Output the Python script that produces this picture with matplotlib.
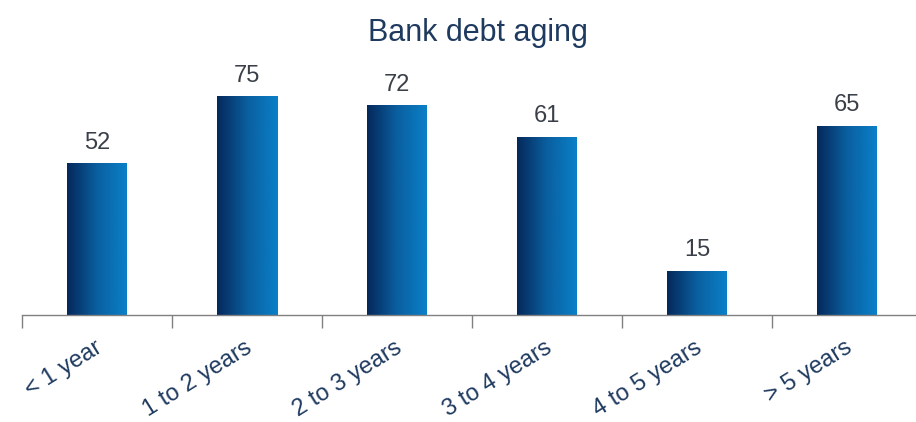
import numpy as np
import matplotlib.pyplot as plt
from matplotlib.colors import LinearSegmentedColormap

categories = ["< 1 year", "1 to 2 years", "2 to 3 years", "3 to 4 years", "4 to 5 years", "> 5 years"]
values = [52, 75, 72, 61, 15, 65]

plt.rcParams['font.family'] = ['Liberation Sans', 'DejaVu Sans']
text_color = "#1f3a5f"
value_color = "#3a3f48"

fig = plt.figure(figsize=(9.16, 4.22), dpi=100)
# axes spans a bit past the right edge, like the original
ax = fig.add_axes([22 / 916, 1 - 315 / 422, 900 / 916, 250 / 422])

x = np.arange(len(categories))
bars = ax.bar(x, values, width=0.4, color="none", edgecolor="none")

# horizontal gradient inside each bar: dark navy -> bright blue
cmap = LinearSegmentedColormap.from_list("bank", ["#05285a", "#0a5fa0", "#0a80c8"])
grad = np.linspace(0, 1, 256).reshape(1, -1)
for b in bars:
    x0, y0 = b.get_x(), b.get_y()
    w, h = b.get_width(), b.get_height()
    ax.imshow(grad, cmap=cmap, aspect="auto", extent=[x0, x0 + w, y0, y0 + h], zorder=2)
    ax.text(x0 + w / 2, h + 3.5, f"{h:g}", ha="center", va="bottom",
            fontsize=17, color=value_color)

ax.set_xlim(-0.5, len(categories) - 0.5)
ax.set_ylim(0, 86)

for s in ["top", "right", "left"]:
    ax.spines[s].set_visible(False)
ax.spines["bottom"].set_color("#808080")
ax.spines["bottom"].set_linewidth(1.0)

ax.set_yticks([])
ax.set_xticks(np.arange(-0.5, len(categories), 1.0))
ax.set_xticklabels([])
ax.tick_params(axis="x", direction="out", length=9, color="#808080", width=1.0)

for i, c in enumerate(categories):
    ax.text(i - 0.02, -7.5, c, rotation=32, rotation_mode="anchor",
            ha="right", va="top", fontsize=17, color=text_color,
            transform=ax.transData, clip_on=False)

fig.text(478 / 916, 1 - 33 / 422, "Bank debt aging", ha="center", va="center",
         fontsize=22, color=text_color)

fig.savefig("out.png", dpi=100)
